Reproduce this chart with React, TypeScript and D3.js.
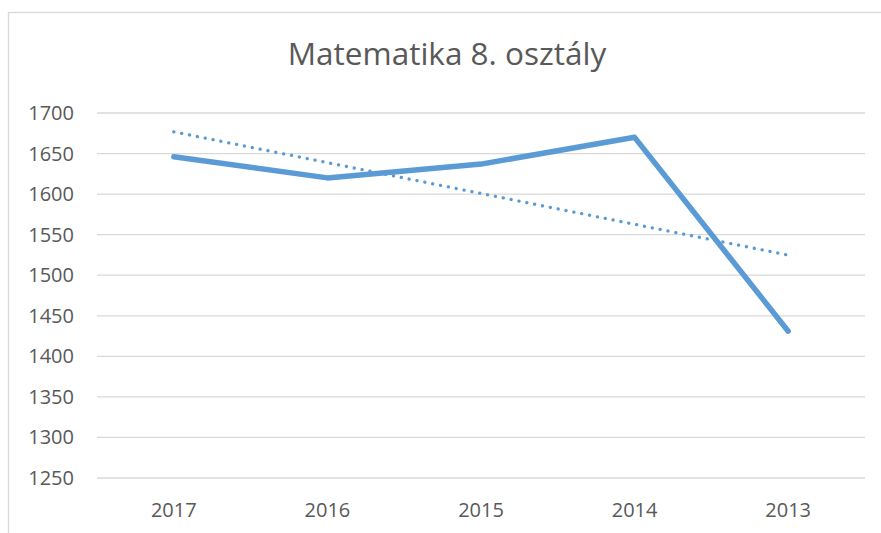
import { useEffect, useRef } from "react";
import * as d3 from "d3";

const title = "Matematika 8. osztály";
const years = ["2017", "2016", "2015", "2014", "2013"];
const scores = [1646, 1620, 1637, 1670, 1431];
const yTicks = [1250, 1300, 1350, 1400, 1450, 1500, 1550, 1600, 1650, 1700];

const App = () => {
  const svgRef = useRef<SVGSVGElement>(null);

  useEffect(() => {
    const width = 881;
    const height = 533;
    const left = 97;
    const right = 865;
    const top = 113;
    const bottom = 478;
    const font = "'Open Sans', 'Liberation Sans', sans-serif";

    const svg = d3.select(svgRef.current);
    svg.selectAll("*").remove();

    svg.append("rect").attr("width", width).attr("height", height).attr("fill", "#fff");
    // chart frame, runs off the right and bottom edges
    svg
      .append("rect")
      .attr("x", 8.5)
      .attr("y", 12.5)
      .attr("width", width)
      .attr("height", height)
      .attr("fill", "none")
      .attr("stroke", "#d9d9d9")
      .attr("stroke-width", 1.3);

    const x = d3.scaleBand().domain(years).range([left, right]);
    const y = d3.scaleLinear().domain([1250, 1700]).range([bottom, top]);

    svg
      .append("g")
      .selectAll("line")
      .data(yTicks)
      .join("line")
      .attr("x1", left)
      .attr("x2", right)
      .attr("y1", (d) => y(d))
      .attr("y2", (d) => y(d))
      .attr("stroke", "#d9d9d9")
      .attr("stroke-width", 1.3);

    svg
      .append("g")
      .selectAll("text")
      .data(yTicks)
      .join("text")
      .attr("x", 74)
      .attr("y", (d) => y(d))
      .attr("dy", "0.35em")
      .attr("text-anchor", "end")
      .attr("fill", "#595959")
      .style("font", `20px ${font}`)
      .text((d) => d);

    svg
      .append("g")
      .selectAll("text")
      .data(years)
      .join("text")
      .attr("x", (d) => x(d)! + x.bandwidth() / 2)
      .attr("y", 517)
      .attr("text-anchor", "middle")
      .attr("fill", "#595959")
      .style("font", `20px ${font}`)
      .text((d) => d);

    svg
      .append("text")
      .attr("x", 447)
      .attr("y", 65)
      .attr("text-anchor", "middle")
      .attr("fill", "#595959")
      .style("font", `31.5px ${font}`)
      .text(title);

    const cx = (i: number) => x(years[i])! + x.bandwidth() / 2;

    // linear trendline (least squares over the series)
    const idx = scores.map((_, i) => i + 1);
    const mx = d3.mean(idx)!;
    const my = d3.mean(scores)!;
    const slope =
      d3.sum(idx, (v, i) => (v - mx) * (scores[i] - my)) / d3.sum(idx, (v) => (v - mx) ** 2);
    const trend = idx.map((v) => my + slope * (v - mx));

    const line = d3
      .line<number>()
      .x((_, i) => cx(i))
      .y((d) => y(d));

    svg
      .append("path")
      .attr("d", line(trend))
      .attr("fill", "none")
      .attr("stroke", "#5b9bd5")
      .attr("stroke-width", 3.3)
      .attr("stroke-linecap", "round")
      .attr("stroke-dasharray", "0.1 7.9");

    svg
      .append("path")
      .attr("d", line(scores))
      .attr("fill", "none")
      .attr("stroke", "#5b9bd5")
      .attr("stroke-width", 5.5)
      .attr("stroke-linecap", "round")
      .attr("stroke-linejoin", "round");
  }, []);

  return (
    <svg
      ref={svgRef}
      width={881}
      height={533}
      style={{ position: "absolute", left: 0, top: 0 }}
    ></svg>
  );
};

export default App;
